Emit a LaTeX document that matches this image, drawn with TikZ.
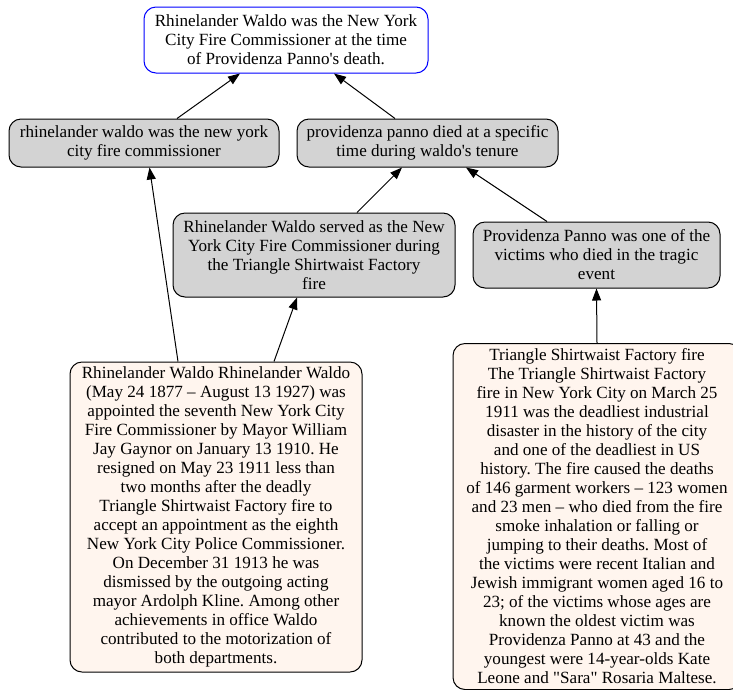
\documentclass[tikz,border=0pt]{standalone}
\usepackage{fontspec}
\setmainfont{Liberation Serif}
\usetikzlibrary{arrows.meta}
\definecolor{boxgray}{HTML}{D3D3D3}
\definecolor{seashell}{HTML}{FFF5EE}
\definecolor{pureblue}{HTML}{0000FF}
\tikzset{
  base/.style={draw, line width=1pt, rounded corners=12pt, inner sep=0pt, align=center,
    font=\fontsize{17.1}{19}\selectfont\frenchspacing},
  claim/.style={base, draw=pureblue, fill=white},
  mid/.style={base, fill=boxgray},
  src/.style={base, fill=seashell},
  edge/.style={line width=1pt, -{Triangle[length=12pt,width=9pt]}}
}
\begin{document}
\begin{tikzpicture}[x=1pt,y=-1pt]
\useasboundingbox (0,0) rectangle (733,689);
\node[claim, minimum width=284pt, minimum height=66pt] (top) at (286,40)
  {Rhinelander Waldo was the New York\\City Fire Commissioner at the time\\of Providenza Panno\textquotesingle s death.};
\node[mid, minimum width=270pt, minimum height=48pt] (lm) at (144,143)
  {rhinelander waldo was the new york\\city fire commissioner};
\node[mid, minimum width=261pt, minimum height=48pt] (mm) at (427.5,143)
  {providenza panno died at a specific\\time during waldo\textquotesingle s tenure};
\node[mid, minimum width=282pt, minimum height=84pt] (served) at (314,255)
  {Rhinelander Waldo served as the New\\York City Fire Commissioner during\\the Triangle Shirtwaist Factory\\fire};
\node[mid, minimum width=247pt, minimum height=66pt] (pv) at (596.5,255)
  {Providenza Panno was one of the\\victims who died in the tragic\\event};
\node[src, minimum width=292pt, minimum height=310pt] (lb) at (216,517)
  {Rhinelander Waldo Rhinelander Waldo\\(May 24 1877 – August 13 1927) was\\appointed the seventh New York City\\Fire Commissioner by Mayor William\\Jay Gaynor on January 13 1910. He\\resigned on May 23 1911 less than\\two months after the deadly\\Triangle Shirtwaist Factory fire to\\accept an appointment as the eighth\\New York City Police Commissioner.\\On December 31 1913 he was\\dismissed by the outgoing acting\\mayor Ardolph Kline. Among other\\achievements in office Waldo\\contributed to the motorization of\\both departments.};
\node[src, minimum width=288pt, minimum height=346pt] (rb) at (597,516.5)
  {Triangle Shirtwaist Factory fire\\The Triangle Shirtwaist Factory\\fire in New York City on March 25\\1911 was the deadliest industrial\\disaster in the history of the city\\and one of the deadliest in US\\history. The fire caused the deaths\\of 146 garment workers – 123 women\\and 23 men – who died from the fire\\smoke inhalation or falling or\\jumping to their deaths. Most of\\the victims were recent Italian and\\Jewish immigrant women aged 16 to\\23; of the victims whose ages are\\known the oldest victim was\\Providenza Panno at 43 and the\\youngest were 14-year-olds Kate\\Leone and \textquotedbl Sara\textquotedbl{} Rosaria Maltese.};
\draw[edge] ([xshift=33pt]lm.north) -- ([xshift=-46pt]top.south);
\draw[edge] ([xshift=-32.5pt]mm.north) -- ([xshift=48pt]top.south);
\draw[edge] ([xshift=43pt]served.north) -- ([xshift=-25.5pt]mm.south);
\draw[edge] ([xshift=-49.5pt]pv.north) -- ([xshift=38.5pt]mm.south);
\draw[edge] ([xshift=-38pt]lb.north) -- ([xshift=5.5pt]lm.south);
\draw[edge] ([xshift=58pt]lb.north) -- ([xshift=-17pt]served.south);
\draw[edge] (rb.north) -- (pv.south);
\end{tikzpicture}
\end{document}
